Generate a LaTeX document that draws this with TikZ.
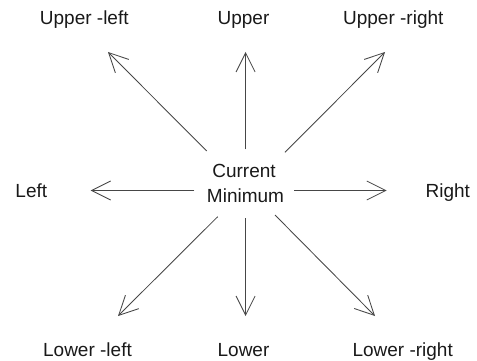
\documentclass[tikz,border=0pt]{standalone}
\usepackage{fontspec}
\setmainfont{Liberation Sans}
\usetikzlibrary{arrows.meta}
\definecolor{linec}{RGB}{70,70,70}
\definecolor{textc}{RGB}{25,25,25}
\tikzset{
  lbl/.style={anchor=base, inner sep=0pt, text=textc, font=\fontsize{19}{25}\selectfont},
  arr/.style={draw=linec, line width=0.85pt, -{Straight Barb[length=19pt,width=19pt,line width=0.85pt]}}
}
\begin{document}
\begin{tikzpicture}[x=1pt,y=-1pt]
\useasboundingbox (0,0) rectangle (477,361);
% labels
\node[lbl] (ul) at (84.3,25) {Upper -left};
\node[lbl] (u)  at (243.5,25) {Upper};
\node[lbl] (ur) at (393.3,25) {Upper -right};
\node[lbl] (l)  at (31.3,197.3) {Left};
\node[lbl] (r)  at (447.8,197.3) {Right};
\node[lbl] (ll) at (87.5,356.7) {Lower -left};
\node[lbl] (lo) at (243.5,356.7) {Lower};
\node[lbl] (lr) at (402.7,356.7) {Lower -right};
\node[lbl] (cur) at (244,177) {Current};
\node[lbl] (min) at (245.5,202) {Minimum};
% arrow ends
\coordinate (ulS) at (206.7,151);  \coordinate (ulT) at (108,52);
\coordinate (uS)  at (245.6,149.3); \coordinate (uT) at (245.6,52);
\coordinate (urS) at (285,152.3);  \coordinate (urT) at (385,52);
\coordinate (lS)  at (194.3,190.5); \coordinate (lT) at (90.7,190.5);
\coordinate (rS)  at (294,190.5);  \coordinate (rT) at (386.7,190.5);
\coordinate (llS) at (217.7,216.7); \coordinate (llT) at (118,316);
\coordinate (loS) at (245.6,218.3); \coordinate (loT) at (245.6,316);
\coordinate (lrS) at (275,215);    \coordinate (lrT) at (375,316);
\draw[arr] (ulS) -- (ulT);
\draw[arr] (uS) -- (uT);
\draw[arr] (urS) -- (urT);
\draw[arr] (lS) -- (lT);
\draw[arr] (rS) -- (rT);
\draw[arr] (llS) -- (llT);
\draw[arr] (loS) -- (loT);
\draw[arr] (lrS) -- (lrT);
\end{tikzpicture}
\end{document}
